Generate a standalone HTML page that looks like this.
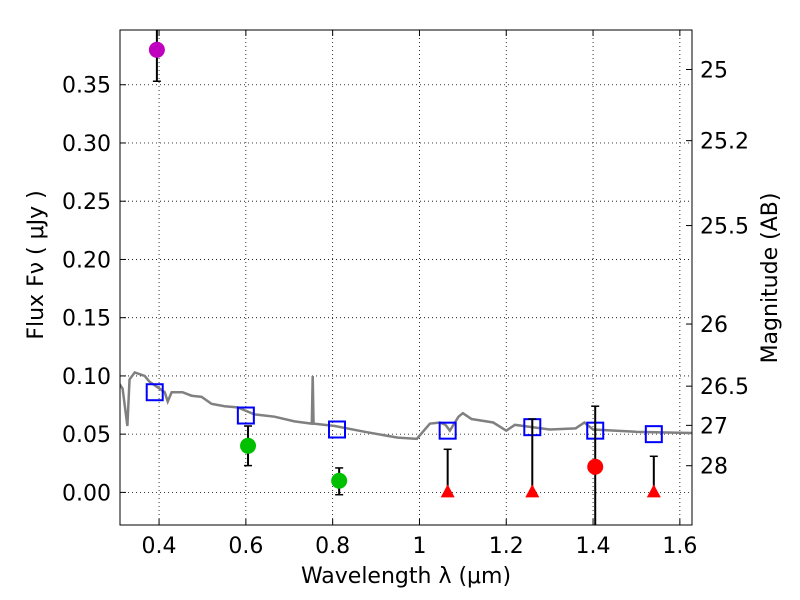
<!DOCTYPE html>
<html><head><meta charset="utf-8"><style>
body{margin:0;background:#fff}
svg{display:block;font-family:"DejaVu Sans","Liberation Sans",sans-serif}
</style></head><body>
<svg id="chart" width="800" height="600"></svg>
<script>
const specWave=[0.309,0.316,0.327,0.332,0.344,0.367,0.378,0.413,0.420,0.429,0.454,0.475,0.498,0.521,0.551,0.581,0.620,0.666,0.712,0.752,0.754,0.756,0.805,0.874,0.950,0.994,1.024,1.047,1.06,1.07,1.09,1.10,1.12,1.17,1.20,1.22,1.30,1.36,1.38,1.40,1.50,1.63];
const specFlux=[0.093,0.089,0.057,0.097,0.103,0.100,0.095,0.086,0.078,0.086,0.086,0.083,0.082,0.076,0.074,0.073,0.067,0.065,0.061,0.059,0.100,0.059,0.057,0.052,0.047,0.046,0.059,0.060,0.058,0.053,0.065,0.068,0.063,0.060,0.053,0.058,0.054,0.055,0.060,0.054,0.052,0.051];
const modelWave=[0.39,0.60,0.81,1.065,1.26,1.405,1.54];
const modelFlux=[0.086,0.066,0.054,0.053,0.056,0.053,0.050];
const detWave=[0.395,0.605,0.815,1.405];
const detFlux=[0.380,0.040,0.010,0.022];
const detLo=[0.353,0.023,-0.002,-0.03];
const detHi=[0.41,0.057,0.021,0.074];
const detColor=['#bf00bf','#00c000','#00c000','#ff0000'];
const limWave=[1.065,1.26,1.54];
const limHi=[0.037,0.063,0.031];
const xTicks=[0.4,0.6,0.8,1.0,1.2,1.4,1.6];
const xTickLabels=['0.4','0.6','0.8','1','1.2','1.4','1.6'];
const yTicks=[0,0.05,0.10,0.15,0.20,0.25,0.30,0.35];
const magTicks=[25,25.2,25.5,26,26.5,27,28];
const magLabels=['25','25.2','25.5','26','26.5','27','28'];

const L=120,R=692,T=30,B=525,X0=0.31,X1=1.628,Y0=-0.028,Y1=0.397;
const sx=v=>L+(v-X0)/(X1-X0)*(R-L);
const sy=v=>B-(v-Y0)/(Y1-Y0)*(B-T);
const svg=document.getElementById('chart');
const NS='http://www.w3.org/2000/svg';
function mk(tag,at,parent){const e=document.createElementNS(NS,tag);for(const k in at)e.setAttribute(k,at[k]);(parent||svg).appendChild(e);return e;}
const clip=mk('clipPath',{id:'pc'});mk('rect',{x:L,y:T,width:R-L,height:B-T},clip);
const g=mk('g',{'clip-path':'url(#pc)'});


xTicks.forEach((v,i)=>{
 const l=mk('line',{x1:sx(v),x2:sx(v),y1:T,y2:B,stroke:'#000','stroke-dasharray':'1,3','stroke-width':0.8},g);
 
 
 mk('line',{x1:sx(v),x2:sx(v),y1:B,y2:B-6,stroke:'#000'});
 mk('line',{x1:sx(v),x2:sx(v),y1:T,y2:T+6,stroke:'#000'});
 const t=mk('text',{x:sx(v),y:B+28,'font-size':22,'text-anchor':'middle'});t.textContent=xTickLabels[i];
 
 
});
yTicks.forEach(v=>{
 const l=mk('line',{x1:L,x2:R,y1:sy(v),y2:sy(v),stroke:'#000','stroke-dasharray':'1,3','stroke-width':0.8},g);
 
 
 mk('line',{x1:L,x2:L+6,y1:sy(v),y2:sy(v),stroke:'#000'});
 const t=mk('text',{x:L-9,y:sy(v)+8,'font-size':22,'text-anchor':'end'});t.textContent=v.toFixed(2);
 
 
});
magTicks.forEach((m,i)=>{
 const f=Math.pow(10,(23.9-m)/2.5);
 mk('line',{x1:R,x2:R-6,y1:sy(f),y2:sy(f),stroke:'#000'});
 const t=mk('text',{x:R+8,y:sy(f)+8,'font-size':22});t.textContent=magLabels[i];
 
 
});
const sp=mk('polyline',{points:specWave.map((w,i)=>sx(w)+','+sy(specFlux[i])).join(' '),fill:'none',stroke:'#808080','stroke-width':2.5},g);


modelWave.forEach((w,i)=>{
 const r=mk('rect',{x:sx(w)-8,y:sy(modelFlux[i])-8,width:16,height:16,fill:'none',stroke:'#0000ff','stroke-width':2},g);
 
 
});
detWave.forEach((w,i)=>{
 const x=sx(w);
 const e=mk('line',{x1:x,x2:x,y1:sy(detLo[i]),y2:sy(detHi[i]),stroke:'#000','stroke-width':2},g);
 
 
 [detLo[i],detHi[i]].forEach(v=>mk('line',{x1:x-4,x2:x+4,y1:sy(v),y2:sy(v),stroke:'#000','stroke-width':1.5},g));
 const c=mk('circle',{cx:x,cy:sy(detFlux[i]),r:8,fill:detColor[i]},g);
 
 
});
limWave.forEach((w,i)=>{
 const x=sx(w),y=sy(0);
 const e=mk('line',{x1:x,x2:x,y1:y,y2:sy(limHi[i]),stroke:'#000','stroke-width':2},g);
 
 
 mk('line',{x1:x-4,x2:x+4,y1:sy(limHi[i]),y2:sy(limHi[i]),stroke:'#000','stroke-width':1.5},g);
 const p=mk('polygon',{points:`${x},${y-8} ${x-7},${y+5} ${x+7},${y+5}`,fill:'#ff0000'},g);
 
 
});
const fr=mk('rect',{x:L,y:T,width:R-L,height:B-T,fill:'none',stroke:'#000','stroke-width':1});


const xl=mk('text',{x:406,y:583,'font-size':22,'text-anchor':'middle'});xl.textContent='Wavelength  λ (μm)';


const yl=mk('text',{x:0,y:0,'font-size':22,'text-anchor':'middle',transform:'translate(43,265) rotate(-90)'});yl.textContent='Flux  Fν  ( μJy )';


const ml=mk('text',{x:0,y:0,'font-size':22,'text-anchor':'middle',transform:'translate(777,278) rotate(-90)'});ml.textContent='Magnitude (AB)';


</script>
</body></html>
